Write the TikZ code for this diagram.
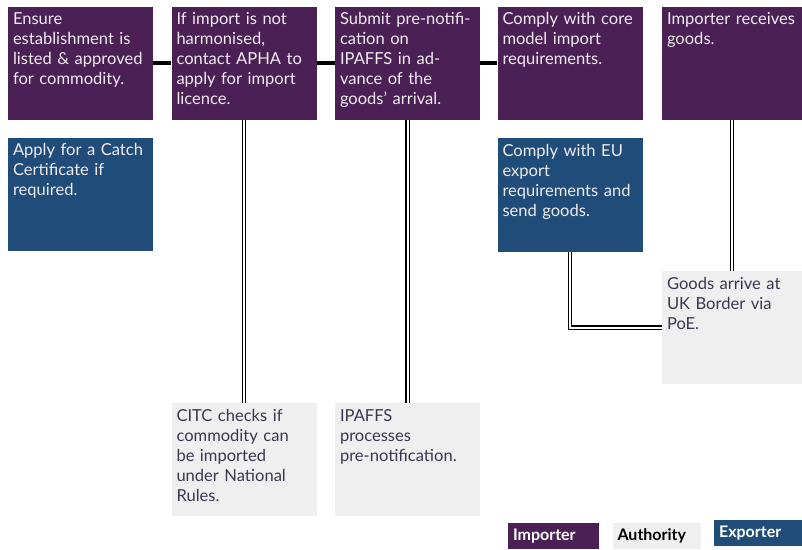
\documentclass[tikz,border=0pt]{standalone}
\usepackage{fontspec}
\setmainfont{Lato}
\usetikzlibrary{positioning}
\definecolor{importer-purple}{HTML}{4A2055}
\definecolor{exporter-blue}{HTML}{1F4C78}
\definecolor{authority-grey}{HTML}{EFEFEF}
\definecolor{box-text}{HTML}{3B3650}
\definecolor{light-text}{HTML}{F0ECF2}
\newlength{\basisimportflow}
\setlength{\basisimportflow}{0.75pt}

\begin{document}
\begin{tikzpicture}[
    flowbox/.style={rectangle, inner xsep=5\basisimportflow, inner ysep=0pt,
        text width=135\basisimportflow, align=left,
        text height=18\basisimportflow, text depth=95\basisimportflow,
        font=\fontsize{12.4}{15}\selectfont},
    importer/.style={flowbox, fill=importer-purple, text=light-text},
    exporter/.style={flowbox, fill=exporter-blue, text=light-text},
    authority/.style={flowbox, fill=authority-grey, text=box-text},
    legendbox/.style={rectangle, inner xsep=5\basisimportflow, inner ysep=0pt,
        minimum height=26\basisimportflow, align=left,
        font=\bfseries\fontsize{12}{14}\selectfont},
    link/.style={line width=4\basisimportflow},
    handover/.style={double=white, double distance=2\basisimportflow, line width=1.2\basisimportflow}
]
    \useasboundingbox (0,0) rectangle (802\basisimportflow,-549\basisimportflow);

    % importer row
    \node[importer] (ensure) at (80.5\basisimportflow,-63.5\basisimportflow)
        {Ensure\\establishment is\\listed \& approved\\for commodity.};
    \node[importer] (licence) at (244\basisimportflow,-63.5\basisimportflow)
        {If import is not\\harmonised,\\contact APHA to\\apply for import\\licence.};
    \node[importer] (prenotify) at (407.5\basisimportflow,-63.5\basisimportflow)
        {Submit pre-notifi-\\cation on\\IPAFFS in ad-\\vance of the\\goods’ arrival.};
    \node[importer] (coremodel) at (570\basisimportflow,-63.5\basisimportflow)
        {Comply with core\\model import\\requirements.};
    \node[importer, text width=130\basisimportflow] (receive) at (732\basisimportflow,-63.5\basisimportflow)
        {Importer receives\\goods.};

    % exporter boxes
    \node[exporter] (catch) at (80.5\basisimportflow,-194.5\basisimportflow)
        {Apply for a Catch\\Certificate if\\required.};
    \node[exporter] (sendgoods) at (570\basisimportflow,-195\basisimportflow)
        {Comply with EU\\export\\requirements and\\send goods.};

    % authority boxes
    \node[authority] (citc) at (244\basisimportflow,-459.5\basisimportflow)
        {CITC checks if\\commodity can\\be imported\\under National\\Rules.};
    \node[authority] (ipaffs) at (407.5\basisimportflow,-459.5\basisimportflow)
        {IPAFFS\\processes\\pre-notification.};
    \node[authority, text width=130\basisimportflow] (border) at (732\basisimportflow,-327.5\basisimportflow)
        {Goods arrive at\\UK Border via\\PoE.};

    % connectors
    \draw[link] (ensure) -- (licence);
    \draw[link] (licence) -- (prenotify);
    \draw[link] (prenotify) -- (coremodel);
    \draw[handover] (licence.south) -- (citc.north);
    \draw[handover] (prenotify.south) -- (ipaffs.north);
    \draw[handover] (receive.south) -- (border.north);
    \draw[handover] (sendgoods.south) |- (border.west);

    % legend
    \node[legendbox, fill=importer-purple, text=white, text width=81\basisimportflow] (key-importer)
        at (553.5\basisimportflow,-536\basisimportflow) {Importer};
    \node[legendbox, fill=authority-grey, text=black, text width=78\basisimportflow, right=13\basisimportflow of key-importer] (key-authority)
        {Authority};
    \node[legendbox, fill=exporter-blue, text=white, text width=79\basisimportflow, right=13\basisimportflow of key-authority, yshift=3\basisimportflow] (key-exporter)
        {Exporter};
\end{tikzpicture}
\end{document}
